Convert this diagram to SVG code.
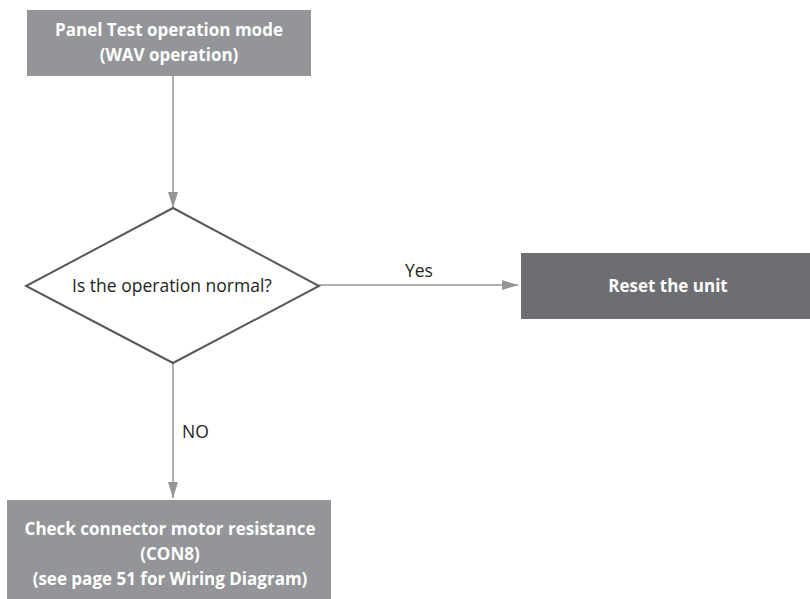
<svg xmlns="http://www.w3.org/2000/svg" width="810" height="599" viewBox="0 0 810 599">
<style>
.t{font-family:"Open Sans","Liberation Sans",sans-serif;font-size:17.5px;}
.b{font-weight:bold;font-size:17px;fill:#ffffff;text-anchor:middle;}
.l{fill:#231f20;}
.c{stroke:#939598;stroke-width:1.5;fill:none;}
</style>
<defs>
<marker id="ah2" viewBox="0 0 16 10" refX="16" refY="5" markerWidth="16" markerHeight="10" markerUnits="userSpaceOnUse" orient="auto">
<path d="M0,0 L16,5 L0,10 Z" fill="#939598"/>
</marker>
</defs>
<rect width="810" height="599" fill="#ffffff"/>
<g id="connectors">
<line class="c" x1="173" y1="76" x2="173" y2="208" marker-end="url(#ah2)"/>
<line class="c" x1="319" y1="285" x2="518" y2="285" marker-end="url(#ah2)"/>
<line class="c" x1="173" y1="363" x2="173" y2="498" marker-end="url(#ah2)"/>
<text class="t l" x="405" y="277">Yes</text>
<text class="t l" x="182" y="438">NO</text>
</g>
<g id="start">
<rect x="27" y="10" width="284" height="66" fill="#939598"/>
<text class="t b" x="169" y="36">Panel Test operation mode</text>
<text class="t b" x="169" y="61">(WAV operation)</text>
</g>
<g id="decision">
<polygon points="173,208 319,286 173,363 26,286" fill="#ffffff" stroke="#58595b" stroke-width="2"/>
<text class="t l" x="172" y="292" text-anchor="middle">Is the operation normal?</text>
</g>
<g id="reset">
<rect x="521" y="253" width="289" height="66" fill="#6d6e71"/>
<text class="t b" x="668" y="292">Reset the unit</text>
</g>
<g id="check">
<rect x="7" y="500" width="324" height="99" fill="#939598"/>
<text class="t b" x="170" y="535">Check connector motor resistance</text>
<text class="t b" x="170" y="560">(CON8)</text>
<text class="t b" x="170" y="585">(see page 51 for Wiring Diagram)</text>
</g>
</svg>
